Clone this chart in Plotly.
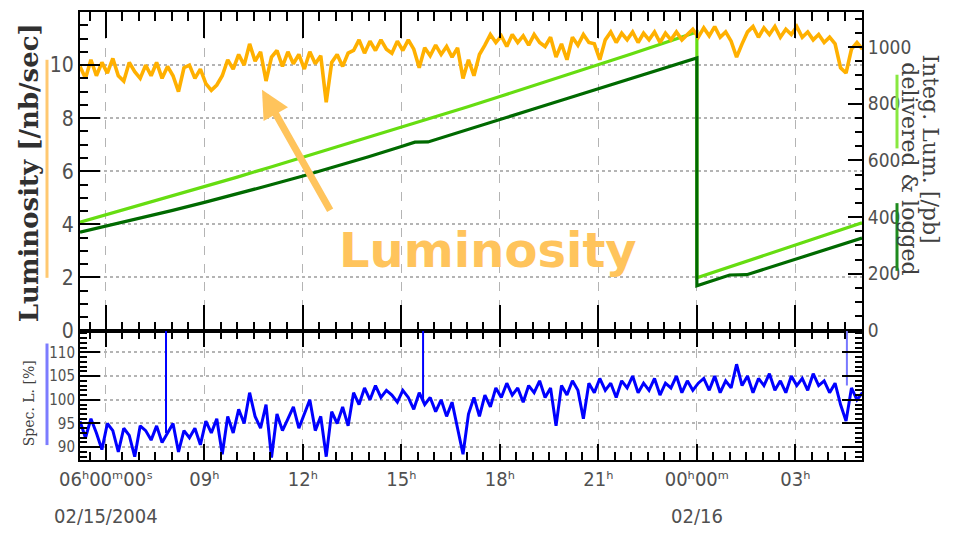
import plotly.graph_objects as go

# ---------------------------------------------------------------
# Time base: hours after 00:00 on 02/15/2004, 10-minute samples
# ---------------------------------------------------------------
T0 = 5.21
STEP = 1.0 / 6.0

# Instantaneous luminosity [/nb/sec]
lumi = [
    9.95, 9.5, 10.2, 9.6, 10.1, 9.7, 10.25, 9.6, 9.4, 10.1,
    9.75, 9.5, 10.0, 9.6, 10.1, 9.5, 9.95, 9.6, 9.0, 9.9,
    10.0, 9.5, 9.85,
    9.3, 9.05, 9.25,
    9.6, 10.2, 9.85, 10.4, 10.0,
    10.8, 10.15, 10.5, 9.4, 10.3, 10.55, 9.95, 10.5, 10.05,
    10.4, 9.85, 10.5, 10.05, 10.35,
    8.6,
    10.1, 10.4, 9.95, 10.45,
    10.55, 10.95, 10.45, 10.9, 10.55, 10.95, 10.6, 10.45, 10.9, 10.55, 10.95, 10.6,
    9.9,
    10.65, 10.35, 10.75, 10.4, 10.7, 10.3, 10.65,
    9.5, 10.2, 9.6, 10.4,
    10.75, 11.15, 10.85, 11.1, 10.7, 11.15, 10.85, 11.1, 10.75, 11.15, 10.85, 10.7, 11.05,
    10.3, 10.8, 10.2,
    11.05, 10.75, 11.15, 10.85, 10.8,
    10.2,
    10.95, 11.25, 10.85, 11.2, 10.95, 11.25, 10.85, 11.2, 10.95, 11.25, 10.85, 11.2, 10.95, 11.25, 10.95, 11.15,
    11.35, 11.05, 11.4, 11.1, 11.45, 11.05, 11.25,
    10.9, 10.3, 10.8,
    11.25, 11.45, 11.05, 11.4, 11.15, 11.45, 11.05, 11.35, 11.15, 11.45, 11.05, 11.25, 10.95, 11.15, 10.85, 11.05,
    10.8, 9.9, 9.7, 10.6, 10.85, 10.6,
]

# Specific luminosity [%]
spec = [
    95.5, 92.0, 96.0, 93.0, 89.5, 95.0, 93.5, 89.0,
    94.0, 92.5, 88.0, 94.5, 93.5, 91.5, 94.5, 91.0, 93.0, 95.0, 89.0, 93.5, 92.0, 94.0, 90.5,
    95.5, 93.0, 96.0, 88.5,
    96.5, 93.0, 98.0, 95.0, 101.5, 96.5, 94.0, 99.0, 87.8, 97.0, 93.5, 96.0, 98.5, 94.0,
    97.0, 100.0, 93.5, 96.5, 88.0, 97.5, 95.0, 98.5, 94.5,
    101.5, 99.0, 102.5, 100.0, 103.0, 100.5, 102.0,
    101.0, 99.5, 102.0, 100.5, 98.0, 101.5, 99.0, 100.5, 97.5, 100.0, 96.5, 99.5, 94.0,
    88.5, 97.0,
    100.5, 96.5, 101.0, 98.5,
    102.5, 100.5, 103.5, 101.0, 102.5, 99.5, 103.0, 101.5, 104.0, 100.5, 102.5, 94.5,
    103.0, 101.0, 104.0, 102.0, 96.0, 103.5, 101.5, 104.5, 102.0, 103.5, 100.5, 104.0, 102.5,
    105.0, 101.5, 103.5, 102.0, 104.5, 101.0, 103.5, 102.5, 105.0, 101.5, 104.0, 102.0, 103.5,
    104.5, 102.0, 105.0, 101.5, 104.0, 102.5, 107.5, 103.0, 105.0, 101.5, 104.5, 103.0, 105.5,
    102.0, 104.0, 101.5, 105.0, 103.0, 104.5, 102.0, 105.5, 103.0, 104.0, 101.5, 103.5,
    99.0, 95.5, 102.5, 100.0, 101.5,
]

# Short spikes in the specific luminosity
spike_t = [7.83, 15.66, 28.57]
spike_base = [93.0, 100.0, 103.0]
spike_top = [114.6, 114.6, 114.6]
spike_color = ["#0000FF", "#0000FF", "#7878FF"]

# Integrated luminosity [/pb], reset at midnight
deliv_t = [5.21, 6, 7, 8, 9, 10, 11, 12, 13, 14, 15, 16, 17, 18, 19, 20, 21, 22, 23, 24,
           24, 25, 26, 27, 28, 29.03]
delivered = [382, 408, 441, 474, 508, 541, 576, 611, 646, 681, 716, 752, 788, 825, 862, 899,
             937, 975, 1014, 1053,
             186, 225, 264, 302, 341, 380]

logged_t = [5.21, 6, 7, 8, 9, 10, 11, 12, 13, 14, 15, 15.41, 15.81, 16, 17, 18, 19, 20, 21,
            22, 23, 24,
            24, 25.0, 25.52, 26, 27, 28, 29.03]
logged = [347, 368, 395, 423, 452, 482, 513, 545, 578, 613, 649, 664, 665, 672, 708, 744, 780,
          816, 852, 888, 924, 961,
          158, 196, 197, 215, 252, 289, 326]

# Axis ticks
x_tickvals = [6, 9, 12, 15, 18, 21, 24, 27]
x_ticktext = ["06ʰ00ᵐ00ˢ", "09ʰ", "12ʰ", "15ʰ", "18ʰ", "21ʰ", "00ʰ00ᵐ", "03ʰ"]
date_t = [6, 24]
date_text = ["02/15/2004", "02/16"]
lumi_ticks = [0, 2, 4, 6, 8, 10]
integ_ticks = [0, 200, 400, 600, 800, 1000]
spec_ticks = [90, 95, 100, 105, 110]

lumi_t = [T0 + i * STEP for i in range(len(lumi))]
spec_t = [T0 + i * STEP for i in range(len(spec))]

# ---------------------------------------------------------------
W, H = 957, 533
ML, MR, MT, MB = 80, 95, 10, 73
PW, PH = W - ML - MR, H - MT - MB
SPLIT = 330  # pixel row where the two panels meet


def px(x):
    return (x - ML) / PW


def py(y):
    return (H - MB - y) / PH


NARROW = "DejaVu Sans Condensed, DejaVu Sans, sans-serif"
SERIF = "DejaVu Serif, Liberation Serif, serif"
TICKCOL = "#505050"
GRIDCOL = "#b4b4b4"
XR = [5.21, 29.03]

fig = go.Figure()

# Integrated luminosity (right axis of the upper panel)
fig.add_trace(go.Scatter(x=deliv_t, y=delivered, xaxis="x", yaxis="y", mode="lines",
                         line=dict(color="#66DD11", width=3.2), hoverinfo="skip"))
fig.add_trace(go.Scatter(x=logged_t, y=logged, xaxis="x", yaxis="y", mode="lines",
                         line=dict(color="#006A00", width=3.2), hoverinfo="skip"))
# Instantaneous luminosity (left axis of the upper panel)
fig.add_trace(go.Scatter(x=lumi_t, y=lumi, xaxis="x", yaxis="y3", mode="lines",
                         line=dict(color="#FFB000", width=3.6), hoverinfo="skip"))
# Specific luminosity (lower panel)
fig.add_trace(go.Scatter(x=spec_t, y=spec, xaxis="x2", yaxis="y2", mode="lines",
                         line=dict(color="#0000FF", width=3), hoverinfo="skip"))
for t, b, top, c in zip(spike_t, spike_base, spike_top, spike_color):
    fig.add_trace(go.Scatter(x=[t, t], y=[b, top], xaxis="x2", yaxis="y2", mode="lines",
                             line=dict(color=c, width=2), hoverinfo="skip"))

top_dom = [py(SPLIT), 1]
bot_dom = [0, py(SPLIT)]

xcommon = dict(range=XR, tickvals=x_tickvals, ticks="inside", mirror="ticks", showline=True,
               linecolor="black", linewidth=2, tickcolor="black", tickwidth=1.5,
               showgrid=True, gridcolor=GRIDCOL, griddash="dash", gridwidth=1,
               zeroline=False)

fig.update_layout(
    width=W, height=H,
    margin=dict(l=ML, r=MR, t=MT, b=MB),
    paper_bgcolor="white", plot_bgcolor="white",
    showlegend=False,
    xaxis=dict(**xcommon, domain=[0, 1], anchor="y", showticklabels=False, ticklen=26,
               minor=dict(dtick=0.5, tick0=0, ticks="inside", ticklen=9, tickcolor="black",
                          showgrid=False)),
    xaxis2=dict(**xcommon, domain=[0, 1], anchor="y2", matches="x", ticktext=x_ticktext,
                ticklen=16, tickfont=dict(family=NARROW, size=20, color=TICKCOL),
                minor=dict(dtick=0.5, tick0=0, ticks="inside", ticklen=8, tickcolor="black",
                           showgrid=False)),
    # integrated luminosity, right side
    yaxis=dict(domain=top_dom, anchor="x", side="right", range=[0, 1123],
               tickvals=integ_ticks, ticks="inside", ticklen=14, tickcolor="black",
               tickwidth=1.5, showline=True, linecolor="black", linewidth=2,
               showgrid=False, zeroline=False,
               tickfont=dict(family=NARROW, size=19, color=TICKCOL),
               minor=dict(dtick=50, ticks="inside", ticklen=7, tickcolor="black")),
    # instantaneous luminosity, left side
    yaxis3=dict(overlaying="y", anchor="x", side="left", range=[0, 12],
                tickvals=lumi_ticks, ticks="inside", ticklen=20, tickcolor="black",
                tickwidth=1.5, showline=True, linecolor="black", linewidth=2,
                showgrid=True, gridcolor=GRIDCOL, griddash="dot", gridwidth=1.5,
                zeroline=False, tickfont=dict(family=NARROW, size=21, color=TICKCOL),
                minor=dict(dtick=0.5, ticks="inside", ticklen=8, tickcolor="black")),
    yaxis2=dict(domain=bot_dom, anchor="x2", range=[87.3, 114.6], tickvals=spec_ticks,
                ticks="inside", ticklen=20, tickcolor="black", tickwidth=1.5, mirror="ticks",
                showline=True, linecolor="black", linewidth=2,
                showgrid=True, gridcolor=GRIDCOL, griddash="dot", gridwidth=1.5,
                zeroline=False, tickfont=dict(family=NARROW, size=15, color=TICKCOL),
                minor=dict(dtick=1, ticks="inside", ticklen=7, tickcolor="black")),
)

# Date lines under the first tick of each day
for t, s in zip(date_t, date_text):
    fig.add_annotation(xref="x2", yref="paper", x=t, y=py(516), text=s, showarrow=False,
                       xanchor="center", yanchor="middle",
                       font=dict(family=NARROW, size=20, color=TICKCOL))

# Axis titles with colour keys
ann = [
    dict(text="<b>Luminosity [/nb/sec]</b>", x=px(29), y=py(172), textangle=-90,
         font=dict(family=SERIF, size=26, color="#303030")),
    dict(text="Spec. L. [%]", x=px(29), y=py(403), textangle=-90,
         font=dict(family=SERIF, size=14, color="#404040")),
    dict(text="Integ. Lum. [/pb]", x=px(931), y=py(148), textangle=90,
         font=dict(family=SERIF, size=22, color="#404040")),
    dict(text="delivered &amp; logged", x=px(910), y=py(167), textangle=90,
         font=dict(family=SERIF, size=22, color="#404040")),
    dict(text="<b>Luminosity</b>", x=px(488), y=py(249),
         font=dict(family="DejaVu Sans, sans-serif", size=48, color="#FFC45C")),
]
for a in ann:
    fig.add_annotation(xref="paper", yref="paper", showarrow=False,
                       xanchor="center", yanchor="middle", **a)

# Arrow pointing at the luminosity trace
fig.add_annotation(xref="paper", yref="paper", x=px(262), y=py(88), ax=69, ay=122,
                   text="", showarrow=True, arrowhead=2, arrowsize=0.8, arrowwidth=7,
                   arrowcolor="#FFC45C")

keys = [
    (47, 58, 277, "#FFC870"),
    (47, 343, 445, "#7C7CFF"),
    (897, 73, 147, "#88E840"),
    (897, 202, 270, "#1E8A1E"),
]
for x, y0, y1, c in keys:
    fig.add_shape(type="line", xref="paper", yref="paper", x0=px(x), x1=px(x),
                  y0=py(y0), y1=py(y1), line=dict(color=c, width=3))

fig.write_html("out.html")
